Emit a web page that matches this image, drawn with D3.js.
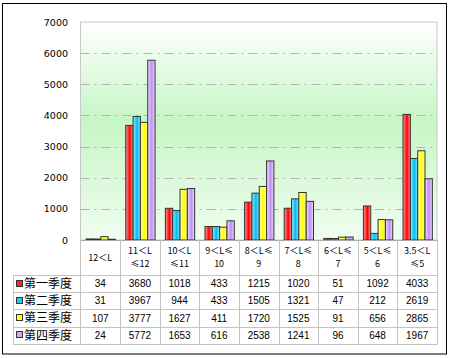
<!DOCTYPE html>
<html>
<head>
<meta charset="utf-8">
<script src="https://cdn.jsdelivr.net/npm/d3@7"></script>
<style>
  body { margin: 0; background: #fff; }
  svg { display: block; }
</style>
</head>
<body>
<div id="chart"></div>
<script>
// categorias (duas linhas no cabeçalho da tabela)
var categories = ["12＜L", "11＜L≤12", "10＜L≤11", "9＜L≤10", "8＜L≤9", "7＜L≤8", "6＜L≤7", "5＜L≤6", "3.5＜L≤5"];
var headerLines = [["12＜L"], ["11＜L", "≤12"], ["10＜L", "≤11"], ["9＜L≤", "10"], ["8＜L≤", "9"],
                   ["7＜L≤", "8"], ["6＜L≤", "7"], ["5＜L≤", "6"], ["3.5＜L", "≤5"]];
var seriesNames = ["第一季度", "第二季度", "第三季度", "第四季度"];
var q1 = [34, 3680, 1018, 433, 1215, 1020, 51, 1092, 4033];
var q2 = [31, 3967, 944, 433, 1505, 1321, 47, 212, 2619];
var q3 = [107, 3777, 1627, 411, 1720, 1525, 91, 656, 2865];
var q4 = [24, 5772, 1653, 616, 2538, 1241, 96, 648, 1967];
var yTicks = [0, 1000, 2000, 3000, 4000, 5000, 6000, 7000];

var series = [q1, q2, q3, q4];
// cores: centro saturado, bordas claras
var colors = [
  {dark: "#ff0000", light: "#ff9a9a", mark: "#ff2020"},
  {dark: "#00bdf0", light: "#9ae8ff", mark: "#20c8f8"},
  {dark: "#ffff00", light: "#ffffa8", mark: "#ffff20"},
  {dark: "#c090f0", light: "#ecdcff", mark: "#d0a8f8"}
];

var W = 450, H = 358;
var plot = {left: 80.5, right: 437, top: 22, bottom: 240};
var tableTop = 240, headerH = 35, rowH = 17.2, legendLeft = 13;

var svg = d3.select("#chart").append("svg")
    .attr("width", W).attr("height", H);

var defs = svg.append("defs");

// fundo do gráfico: branco em cima, verde claro no meio
var bg = defs.append("linearGradient").attr("id", "bg")
    .attr("x1", 0).attr("y1", 0).attr("x2", 0).attr("y2", 1);
bg.append("stop").attr("offset", "0%").attr("stop-color", "#ffffff");
bg.append("stop").attr("offset", "45%").attr("stop-color", "#c6f6c6");
bg.append("stop").attr("offset", "100%").attr("stop-color", "#f0fdf0");

colors.forEach(function(c, i) {
  var g = defs.append("linearGradient").attr("id", "bar" + i)
      .attr("x1", 0).attr("y1", 0).attr("x2", 1).attr("y2", 0);
  g.append("stop").attr("offset", "0%").attr("stop-color", c.light);
  g.append("stop").attr("offset", "55%").attr("stop-color", c.dark);
  g.append("stop").attr("offset", "100%").attr("stop-color", c.light);
});

// moldura externa
svg.append("rect")
    .attr("x", 2.5).attr("y", 3.5).attr("width", 444).attr("height", 350.5)
    .attr("fill", "#fff").attr("stroke", "#000").attr("stroke-width", 1);

// escalas
var col = d3.scaleBand().domain(categories).range([plot.left, plot.right]);
var inner = d3.scaleBand().domain(d3.range(4))
    .range([col.bandwidth() * 0.13, col.bandwidth() * 0.87]);
var y = d3.scaleLinear().domain([0, 7000]).range([plot.bottom, plot.top]);

svg.append("rect")
    .attr("x", plot.left).attr("y", plot.top)
    .attr("width", plot.right - plot.left).attr("height", plot.bottom - plot.top)
    .attr("fill", "url(#bg)").attr("stroke", "#c8c8c8");

// linhas de grade traço-ponto
svg.append("g").selectAll("line")
  .data(yTicks.filter(function(d) { return d > 0 && d < 7000; }))
  .enter().append("line")
    .attr("x1", plot.left).attr("x2", plot.right)
    .attr("y1", function(d) { return Math.round(y(d)) + 0.5; })
    .attr("y2", function(d) { return Math.round(y(d)) + 0.5; })
    .attr("stroke", "#b4b4b4")
    .attr("stroke-dasharray", "9,5,2,5");

// eixo y
var yAxis = d3.axisLeft(y).tickValues(yTicks).tickFormat(d3.format("d")).tickSize(0).tickPadding(0);
var ya = svg.append("g")
    .attr("transform", "translate(68,0)")
    .call(yAxis);
ya.select(".domain").remove();
ya.selectAll("text")
    .attr("font-family", "DejaVu Sans").attr("font-size", "9.5px").attr("fill", "#000");

// barras
var groups = svg.append("g").selectAll("g")
  .data(categories)
  .enter().append("g")
    .attr("transform", function(d) { return "translate(" + col(d) + ",0)"; });

groups.selectAll("rect")
  .data(function(d, ci) { return series.map(function(s, si) { return {si: si, v: s[ci]}; }); })
  .enter().append("rect")
    .attr("x", function(d) { return inner(d.si) + 0.5; })
    .attr("width", inner.bandwidth())
    .attr("y", function(d) { return y(d.v); })
    .attr("height", function(d) { return y(0) - y(d.v); })
    .attr("fill", function(d) { return "url(#bar" + d.si + ")"; })
    .attr("stroke", "#333").attr("stroke-width", 1);

// tabela de dados
var lineColor = "#c4c4c4";
var rowsTop = tableTop + headerH;
var tableBottom = rowsTop + rowH * 4;
var tg = svg.append("g");

tg.append("line").attr("x1", plot.left).attr("x2", plot.right)
    .attr("y1", tableTop + 0.5).attr("y2", tableTop + 0.5).attr("stroke", "#a8a8a8");
d3.range(5).forEach(function(i) {
  var yy = Math.round(rowsTop + rowH * i) + 0.5;
  tg.append("line").attr("x1", legendLeft).attr("x2", plot.right)
      .attr("y1", yy).attr("y2", yy).attr("stroke", lineColor);
});
categories.forEach(function(c, i) {
  var xx = Math.round(col(c) + col.bandwidth()) + 0.5;
  tg.append("line").attr("x1", xx).attr("x2", xx)
      .attr("y1", tableTop).attr("y2", Math.round(tableBottom) + 0.5).attr("stroke", lineColor);
});
tg.append("line").attr("x1", plot.left).attr("x2", plot.left)
    .attr("y1", tableTop).attr("y2", Math.round(tableBottom) + 0.5).attr("stroke", lineColor);
tg.append("line").attr("x1", legendLeft + 0.5).attr("x2", legendLeft + 0.5)
    .attr("y1", Math.round(rowsTop) + 0.5).attr("y2", Math.round(tableBottom) + 0.5).attr("stroke", lineColor);

// cabeçalho
categories.forEach(function(c, i) {
  var lines = headerLines[i];
  var cx = col(c) + col.bandwidth() / 2;
  lines.forEach(function(l, li) {
    var cy = lines.length === 1 ? tableTop + 17.5 : tableTop + 10.5 + li * 13.5;
    tg.append("text")
        .attr("x", cx).attr("y", cy).attr("dy", "0.35em")
        .attr("text-anchor", "middle")
        .attr("font-family", "Noto Sans CJK SC").attr("font-size", "9px")
        .text(l);
  });
});

// linhas da série
seriesNames.forEach(function(name, si) {
  var cy = rowsTop + rowH * si + rowH / 2;
  tg.append("rect")
      .attr("x", 16.5).attr("y", Math.round(cy) - 3.5)
      .attr("width", 6).attr("height", 6)
      .attr("fill", colors[si].mark).attr("stroke", "#333");
  tg.append("text")
      .attr("x", 24).attr("y", cy).attr("dy", "0.36em")
      .attr("font-family", "Noto Sans CJK SC").attr("font-size", "12px")
      .text(name);
  series[si].forEach(function(v, ci) {
    tg.append("text")
        .attr("x", col(categories[ci]) + col.bandwidth() / 2)
        .attr("y", cy).attr("dy", "0.36em")
        .attr("text-anchor", "middle")
        .attr("font-family", "Liberation Sans").attr("font-size", "10px")
        .text(v);
  });
});
</script>
</body>
</html>
